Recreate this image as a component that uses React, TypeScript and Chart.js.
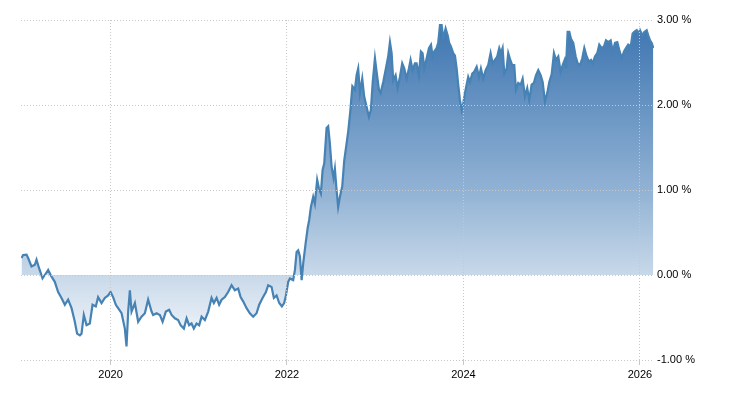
import { useEffect, useRef } from "react";
import { Chart, registerables } from "chart.js";

Chart.register(...registerables);

// decimal years (x) and 10-year yield in % (y)
const years = [
  2018.991, 2019.009, 2019.048, 2019.066, 2019.104, 2019.142, 2019.161, 2019.19, 2019.229, 2019.255,
  2019.293, 2019.331, 2019.368, 2019.406, 2019.444, 2019.482, 2019.519, 2019.558, 2019.595, 2019.621,
  2019.652, 2019.671, 2019.697, 2019.728, 2019.765, 2019.796, 2019.833, 2019.859, 2019.898, 2019.935,
  2019.973, 2020.0, 2020.029, 2020.06, 2020.086, 2020.125, 2020.162, 2020.181, 2020.2, 2020.219,
  2020.238, 2020.276, 2020.313, 2020.351, 2020.389, 2020.426, 2020.465, 2020.483, 2020.522, 2020.559,
  2020.59, 2020.627, 2020.664, 2020.692, 2020.729, 2020.766, 2020.794, 2020.831, 2020.862, 2020.891,
  2020.918, 2020.944, 2020.975, 2021.005, 2021.032, 2021.069, 2021.107, 2021.145, 2021.171, 2021.202,
  2021.231, 2021.259, 2021.296, 2021.333, 2021.372, 2021.409, 2021.447, 2021.474, 2021.503, 2021.542,
  2021.579, 2021.617, 2021.655, 2021.685, 2021.723, 2021.761, 2021.787, 2021.825, 2021.851, 2021.882,
  2021.912, 2021.942, 2021.968, 2021.988, 2022.014, 2022.033, 2022.07, 2022.09, 2022.109, 2022.127,
  2022.146, 2022.166, 2022.184, 2022.211, 2022.234, 2022.252, 2022.271, 2022.297, 2022.316, 2022.342,
  2022.362, 2022.384, 2022.404, 2022.422, 2022.449, 2022.467, 2022.486, 2022.506, 2022.528, 2022.543,
  2022.562, 2022.58, 2022.6, 2022.626, 2022.649, 2022.676, 2022.694, 2022.717, 2022.741, 2022.77,
  2022.789, 2022.807, 2022.827, 2022.853, 2022.875, 2022.902, 2022.929, 2022.951, 2022.971, 2022.997,
  2023.016, 2023.042, 2023.061, 2023.091, 2023.121, 2023.147, 2023.167, 2023.186, 2023.204, 2023.231,
  2023.254, 2023.28, 2023.306, 2023.329, 2023.356, 2023.382, 2023.401, 2023.424, 2023.45, 2023.469,
  2023.495, 2023.518, 2023.537, 2023.556, 2023.583, 2023.609, 2023.632, 2023.651, 2023.669, 2023.696,
  2023.714, 2023.734, 2023.753, 2023.771, 2023.798, 2023.821, 2023.839, 2023.858, 2023.884, 2023.904,
  2023.923, 2023.941, 2023.96, 2023.98, 2023.998, 2024.017, 2024.036, 2024.054, 2024.074, 2024.1,
  2024.122, 2024.15, 2024.176, 2024.198, 2024.224, 2024.252, 2024.281, 2024.308, 2024.331, 2024.357,
  2024.383, 2024.406, 2024.425, 2024.444, 2024.463, 2024.49, 2024.508, 2024.531, 2024.553, 2024.576,
  2024.595, 2024.621, 2024.649, 2024.671, 2024.697, 2024.723, 2024.746, 2024.773, 2024.799, 2024.822,
  2024.848, 2024.875, 2024.898, 2024.924, 2024.95, 2024.973, 2025.0, 2025.026, 2025.049, 2025.075,
  2025.102, 2025.125, 2025.147, 2025.162, 2025.181, 2025.2, 2025.219, 2025.245, 2025.272, 2025.295,
  2025.321, 2025.347, 2025.37, 2025.397, 2025.423, 2025.446, 2025.465, 2025.491, 2025.517, 2025.54,
  2025.567, 2025.593, 2025.616, 2025.642, 2025.669, 2025.692, 2025.718, 2025.744, 2025.766, 2025.794,
  2025.82, 2025.842, 2025.868, 2025.896, 2025.918, 2025.936, 2025.964, 2025.982, 2026.001, 2026.027,
  2026.05, 2026.077, 2026.095, 2026.115, 2026.134, 2026.152,
];

const yields = [
  0.2, 0.235, 0.24, 0.2, 0.1, 0.12, 0.18, 0.08, -0.04, 0.0,
  0.06, -0.02, -0.08, -0.2, -0.27, -0.35, -0.29, -0.39, -0.55, -0.69,
  -0.71, -0.69, -0.47, -0.59, -0.57, -0.35, -0.37, -0.26, -0.33, -0.27,
  -0.24, -0.2, -0.26, -0.35, -0.39, -0.45, -0.63, -0.84, -0.43, -0.18,
  -0.43, -0.33, -0.55, -0.49, -0.45, -0.29, -0.43, -0.47, -0.45, -0.47,
  -0.55, -0.43, -0.41, -0.47, -0.51, -0.53, -0.59, -0.63, -0.51, -0.59,
  -0.57, -0.63, -0.57, -0.59, -0.49, -0.53, -0.43, -0.27, -0.33, -0.27,
  -0.35, -0.29, -0.26, -0.2, -0.12, -0.18, -0.16, -0.26, -0.31, -0.39,
  -0.45, -0.49, -0.45, -0.35, -0.27, -0.2, -0.12, -0.14, -0.27, -0.24,
  -0.33, -0.37, -0.33, -0.24, -0.08, -0.04, -0.06, 0.06, 0.27, 0.29,
  0.22, -0.06, 0.14, 0.37, 0.55, 0.65, 0.8, 0.92, 0.84, 1.12,
  1.02, 0.96, 1.24, 1.31, 1.73, 1.75, 1.55, 1.27, 1.14, 1.25,
  1.0, 0.8, 0.92, 1.04, 1.35, 1.55, 1.69, 1.92, 2.22, 2.18,
  2.35, 2.43, 2.14, 2.31, 2.1, 1.98, 1.86, 1.94, 2.26, 2.55,
  2.39, 2.18, 2.14, 2.27, 2.43, 2.57, 2.74, 2.61, 2.29, 2.35,
  2.2, 2.33, 2.49, 2.43, 2.31, 2.43, 2.53, 2.41, 2.49, 2.49,
  2.35, 2.63, 2.61, 2.43, 2.55, 2.67, 2.71, 2.57, 2.63, 2.67,
  2.73, 2.94, 2.94, 2.78, 2.9, 2.82, 2.73, 2.69, 2.61, 2.58,
  2.43, 2.24, 2.06, 1.94, 2.02, 2.14, 2.24, 2.33, 2.27, 2.37,
  2.39, 2.45, 2.33, 2.43, 2.31, 2.41, 2.47, 2.61, 2.49, 2.53,
  2.57, 2.67, 2.61, 2.67, 2.37, 2.43, 2.61, 2.53, 2.47, 2.47,
  2.18, 2.26, 2.24, 2.31, 2.1, 2.2, 2.06, 2.24, 2.26, 2.35,
  2.41, 2.35, 2.27, 2.04, 2.14, 2.27, 2.36, 2.61, 2.53, 2.57,
  2.39, 2.47, 2.53, 2.43, 2.86, 2.86, 2.78, 2.73, 2.57, 2.49,
  2.47, 2.55, 2.67, 2.57, 2.51, 2.53, 2.49, 2.57, 2.61, 2.71,
  2.67, 2.69, 2.76, 2.74, 2.76, 2.63, 2.73, 2.74, 2.65, 2.55,
  2.63, 2.67, 2.71, 2.69, 2.84, 2.86, 2.88, 2.84, 2.88, 2.82,
  2.86, 2.88, 2.82, 2.76, 2.73, 2.67,
];

const xTickYears = [2020, 2022, 2024, 2026];
const yTickValues = [-1, 0, 1, 2, 3];

export default function App() {
  const ref = useRef<HTMLCanvasElement>(null);

  useEffect(() => {
    const canvas = ref.current;
    if (!canvas) return;

    const gridOnTop = {
      id: "gridOnTop",
      afterDatasetsDraw(chart: any) {
        chart.scales.x.drawGrid(chart.chartArea);
        chart.scales.y.drawGrid(chart.chartArea);
      },
    };

    const tickFont = { family: "'Liberation Sans', Arial, sans-serif", size: 11 };

    const chart = new Chart(canvas, {
      type: "line",
      data: {
        datasets: [
          {
            data: years.map((x, i) => ({ x, y: yields[i] })),
            borderColor: "#4682b4",
            borderWidth: 2.2,
            pointRadius: 0,
            tension: 0,
            fill: "origin",
            backgroundColor: (ctx: any) => {
              const area = ctx.chart.chartArea;
              if (!area) return "rgba(70,127,181,0.5)";
              const g = ctx.chart.ctx.createLinearGradient(0, area.top, 0, area.bottom);
              g.addColorStop(0, "rgb(60,116,176)");
              g.addColorStop(0.5, "rgb(145,178,212)");
              g.addColorStop(1, "rgb(255,255,255)");
              return g;
            },
          },
        ],
      },
      options: {
        responsive: false,
        maintainAspectRatio: false,
        animation: false,
        layout: { padding: { left: 21, top: 20, right: 0, bottom: 0 } },
        plugins: { legend: { display: false }, tooltip: { enabled: false } },
        scales: {
          x: {
            type: "linear",
            min: 2018.985,
            max: 2026.16,
            afterBuildTicks: (s: any) => {
              s.ticks = xTickYears.map((v) => ({ value: v }));
            },
            afterFit: (s: any) => {
              s.height = 40;
            },
            grid: { color: "#c8c8c8", drawTicks: true, tickLength: 5 },
            border: { display: false, dash: [1, 2] },
            ticks: {
              padding: 3,
              color: "#000",
              font: tickFont,
              maxRotation: 0,
              callback: (v: any) => String(v),
            },
          },
          y: {
            position: "right",
            min: -1,
            max: 3,
            afterBuildTicks: (s: any) => {
              s.ticks = yTickValues.map((v) => ({ value: v }));
            },
            afterFit: (s: any) => {
              s.width = 76;
            },
            grid: { color: "#c8c8c8", drawTicks: false },
            border: { display: false, dash: [1, 2] },
            ticks: {
              padding: 3,
              color: "#000",
              font: tickFont,
              callback: (v: any) => Number(v).toFixed(2) + " %",
            },
          },
        },
      },
      plugins: [gridOnTop],
    } as any);

    return () => chart.destroy();
  }, []);

  return (
    <div style={{ position: "fixed", left: 0, top: 0, width: 730, height: 400, background: "#fff" }}>
      <canvas ref={ref} width={730} height={400} style={{ display: "block" }} />
    </div>
  );
}
